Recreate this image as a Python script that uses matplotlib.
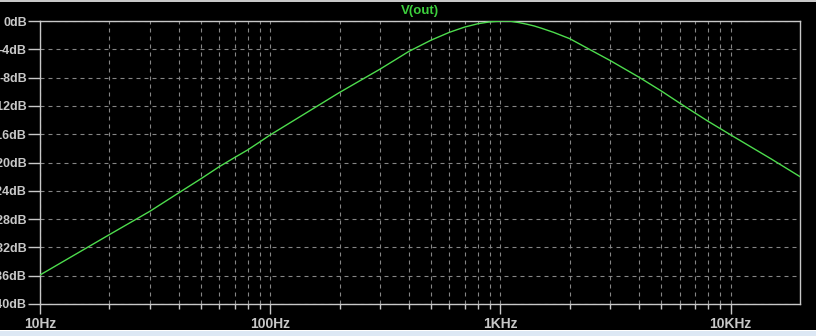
import matplotlib
matplotlib.use("Agg")
import matplotlib.pyplot as plt
from matplotlib.font_manager import FontProperties
from matplotlib.ticker import FixedLocator, NullFormatter

# Data
freq_hz = [10, 20, 30, 40, 50, 60, 70, 80, 90, 100,
           200, 300, 400, 500, 600, 700, 800, 900, 1000, 1100, 1200, 1300, 1400,
           1500, 1700, 2000, 3000, 4000, 5000, 6000, 7000, 8000, 9000, 10000,
           15000, 20000]
gain_db = [-35.9, -30.2, -26.9, -24.3, -22.3, -20.6, -19.3, -18.2, -17.1, -16.1,
           -10.1, -6.8, -4.3, -2.7, -1.6, -0.85, -0.38, -0.12, -0.02, -0.02, -0.22, -0.45, -0.7,
           -1.0, -1.6, -2.5, -5.6, -7.95, -9.9, -11.6, -13.0, -14.2, -15.2, -16.1,
           -19.5, -22.0]
x_major = [10, 100, 1000, 10000]
x_labels = ["10Hz", "100Hz", "1KHz", "10KHz"]
y_ticks = [0, -4, -8, -12, -16, -20, -24, -28, -32, -36, -40]
y_labels = ["0dB", "-4dB", "-8dB", "-12dB", "-16dB", "-20dB", "-24dB",
            "-28dB", "-32dB", "-36dB", "-40dB"]
trace_name = "V(out)"

fams = ["Liberation Sans", "DejaVu Sans"]
fp_x = FontProperties(family=fams, weight="bold", size=10)
fp_y = FontProperties(family=fams, weight="bold", size=9)
fp_title = FontProperties(family=fams, weight="bold", size=9.5)

W, H = 816, 336
fig = plt.figure(figsize=(W / 100, H / 100), dpi=100, facecolor="black")

# window chrome: thin grey line on top, light strip at bottom
fig.patches.append(matplotlib.patches.Rectangle((0, 1 - 2 / H), 1, 2 / H, transform=fig.transFigure,
                                                facecolor="#c8c8c8", edgecolor="none", zorder=0))
fig.patches.append(matplotlib.patches.Rectangle((0, 0), 1, 6 / H, transform=fig.transFigure,
                                                facecolor="#dde8f4", edgecolor="none", zorder=0))
fig.patches.append(matplotlib.patches.Rectangle((0, 5 / H), 1, 1.2 / H, transform=fig.transFigure,
                                                facecolor="#ffffff", edgecolor="none", zorder=0))

left, right, top, bottom = 40, 800, 21, 304
ax = fig.add_axes([left / W, (H - bottom) / H, (right - left) / W, (bottom - top) / H])
ax.set_facecolor("black")

ax.plot(freq_hz, gain_db, color="#4ddc4d", lw=1.0, zorder=3)

ax.set_xscale("log")
ax.set_xlim(10, 20000)
ax.set_ylim(-40, 0)

minor = [m * d for d in [10, 100, 1000, 10000] for m in range(2, 10) if m * d < 20000]
ax.xaxis.set_major_locator(FixedLocator(x_major))
ax.xaxis.set_minor_locator(FixedLocator(minor))
ax.xaxis.set_minor_formatter(NullFormatter())
ax.set_xticks(x_major)
ax.set_xticklabels(x_labels, fontproperties=fp_x, color="#c8c8c8")
ax.set_yticks(y_ticks)
ax.set_yticklabels(y_labels, fontproperties=fp_y, color="#c8c8c8")

grid_kw = dict(color="#858585", linestyle=(0, (3.6, 3.6)), linewidth=0.8)
ax.grid(True, which="major", axis="both", **grid_kw)
ax.grid(True, which="minor", axis="x", **grid_kw)

for s in ax.spines.values():
    s.set_color("#c8c8c8")
    s.set_linewidth(1.0)

ax.tick_params(axis="y", which="major", color="#c8c8c8", length=9, width=1, pad=0.5)
ax.tick_params(axis="x", which="major", color="#c8c8c8", length=7, width=1, pad=2)
ax.tick_params(axis="x", which="minor", color="#c8c8c8", length=3.5, width=1)

fig.text(420 / W, 1 - 11 / H, trace_name, color="#3ccf3c", ha="center", va="center",
         fontproperties=fp_title)

fig.savefig("out.png", dpi=100, facecolor="black")
